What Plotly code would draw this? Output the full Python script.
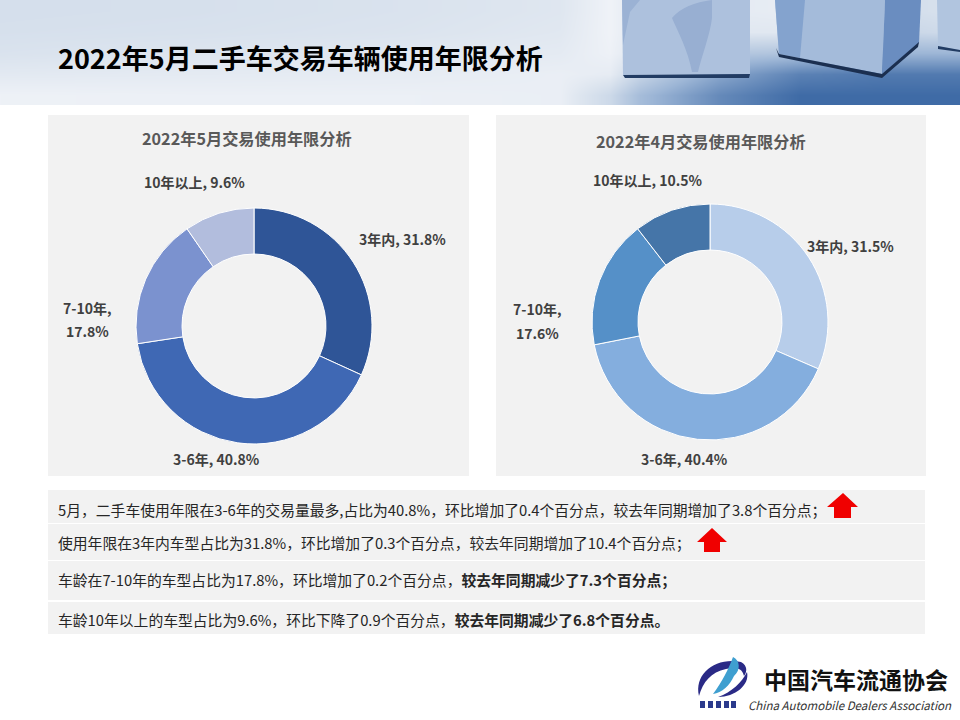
import plotly.graph_objects as go

# chart data
categories = ["3年内", "3-6年", "7-10年", "10年以上"]
may_values = [31.8, 40.8, 17.8, 9.6]
apr_values = [31.5, 40.4, 17.6, 10.5]
may_colors = ["#2f5597", "#3f68b4", "#7b92cf", "#b2bddd"]
apr_colors = ["#b7cdea", "#84aede", "#5590c8", "#4575a8"]
may_title = "2022年5月交易使用年限分析"
apr_title = "2022年4月交易使用年限分析"
page_title = "2022年5月二手车交易车辆使用年限分析"

notes = [
    "5月，二手车使用年限在3-6年的交易量最多,占比为40.8%，环比增加了0.4个百分点，较去年同期增加了3.8个百分点；",
    "使用年限在3年内车型占比为31.8%，环比增加了0.3个百分点，较去年同期增加了10.4个百分点；",
    "车龄在7-10年的车型占比为17.8%，环比增加了0.2个百分点，<b>较去年同期减少了7.3个百分点；</b>",
    "车龄10年以上的车型占比为9.6%，环比下降了0.9个百分点，<b>较去年同期减少了6.8个百分点。</b>",
]

FONT = "Noto Sans CJK SC"
TEXT = "#404040"

# header banner shading, 0 = pale, 1 = deep blue
banner_x = [0, 200, 400, 560, 610, 640, 720, 800, 880, 960]
banner_y = [10.5, 31.5, 52.5, 73.5, 94.5]
banner_z = [
    [0.17, 0.16, 0.14, 0.11, 0.02, 0.10, 0.08, 0.06, 0.20, 0.14],
    [0.16, 0.15, 0.13, 0.10, 0.02, 0.10, 0.10, 0.10, 0.25, 0.20],
    [0.14, 0.12, 0.10, 0.08, 0.03, 0.12, 0.35, 0.40, 0.50, 0.50],
    [0.09, 0.08, 0.07, 0.05, 0.07, 0.25, 0.60, 0.85, 0.90, 0.90],
    [0.03, 0.04, 0.04, 0.05, 0.22, 0.45, 0.80, 1.00, 1.00, 1.00],
]

fig = go.Figure()

fig.add_trace(go.Heatmap(
    x=banner_x, y=banner_y, z=banner_z, zsmooth="best", showscale=False, hoverinfo="skip",
    zmin=0, zmax=1, colorscale=[[0, "#f3f5f9"], [0.12, "#dde5ef"], [0.5, "#9db6d6"], [1, "#3f6ba6"]],
))


def add_donut(values, colors, left, top, size):
    # the library lays the ring out in its own domain, given in page fractions
    fig.add_trace(go.Pie(
        labels=categories, values=values, hole=0.61, sort=False, direction="clockwise",
        rotation=0, textinfo="none", showlegend=False,
        marker=dict(colors=colors, line=dict(color="#ffffff", width=1)),
        domain=dict(x=[left / 960, (left + size) / 960],
                    y=[1 - (top + size) / 720, 1 - top / 720]),
    ))


add_donut(may_values, may_colors, 136, 208, 236)
add_donut(apr_values, apr_colors, 592, 204, 236)


def rect(x0, y0, x1, y1, color, layer="below"):
    fig.add_shape(type="rect", x0=x0, y0=y0, x1=x1, y1=y1, fillcolor=color,
                  line_width=0, layer=layer)


def poly(path, color, layer="above"):
    fig.add_shape(type="path", path=path, fillcolor=color, line_width=0, layer=layer)


def text(x, y, s, size=14, color=TEXT, anchor="left", **kw):
    fig.add_annotation(x=x, y=y, text=s, showarrow=False, xanchor=anchor, yanchor="middle",
                       font=dict(family=FONT, size=size, color=color), **kw)


# panels
rect(48, 115, 469, 476, "#f2f2f2")
rect(496, 115, 926, 476, "#f2f2f2")
for y0, y1 in [(490, 523), (524, 560), (561, 600), (602, 634)]:
    rect(48, y0, 925, y1, "#f2f2f2")

# blocks in the banner
poly("M622,0 L750,0 L750,74 L623,75 Z", "#adc1dd")
poly("M672,18 C680,8 695,2 712,0 L712,18 C710,35 702,55 698,72 L692,72 C688,50 678,32 672,18 Z", "#98afd2")
poly("M622,0 L640,0 L630,12 L623,45 Z", "#9bb2d4")
poly("M623,75 L750,74 L749,78 L625,78 Z", "#223c63")
poly("M775,0 L885,0 L882,74 L779,54 Z", "#a4bbda")
poly("M775,0 L805,0 L800,58 L779,54 Z", "#84a3ce")
poly("M885,0 L921,0 L919,43 L882,74 Z", "#6a8dc0")
poly("M776,48 L779,54 L882,74 L919,42 L918,47 L882,78 L779,57 Z", "#1b2f50")
poly("M937,0 L960,0 L960,50 L938,46 Z", "#b1c5df")
poly("M938,46 L960,50 L960,52 L938,49 Z", "#223c63")

# titles
text(56, 57, "<b>%s</b>" % page_title, size=27, color="#000000")
text(247, 138, "<b>%s</b>" % may_title, size=16.2, color="#595959", anchor="center")
text(701, 141, "<b>%s</b>" % apr_title, size=16.2, color="#595959", anchor="center")


# ring labels, value text comes from the arrays
def lab(i, values):
    return "<b>%s, %.1f%%</b>" % (categories[i], values[i])


def lab_pair(x, y_top, y_bottom, i, values):
    text(x, y_top, "<b>%s,</b>" % categories[i], anchor="center")
    text(x, y_bottom, "<b>%.1f%%</b>" % values[i], anchor="center")


text(402, 239, lab(0, may_values), anchor="center")
text(216, 459, lab(1, may_values), anchor="center")
lab_pair(87, 308, 331, 2, may_values)
text(194, 182, lab(3, may_values), anchor="center")

text(850, 246, lab(0, apr_values), anchor="center")
text(684, 459, lab(1, apr_values), anchor="center")
lab_pair(537, 309, 333, 2, apr_values)
text(648, 180, lab(3, apr_values), anchor="center")

# notes and arrows
for s, y in zip(notes, [509, 542, 579, 619]):
    text(56, y, s, size=14.8, color="#262626")

poly("M827,507 L843,493 L858,507 L851,507 L851,518 L834,518 L834,507 Z", "#f00000")
poly("M697,542 L712,528 L727,542 L720,542 L720,552 L704,552 L704,542 Z", "#f00000")

# association logo
poly("M699,696 C694,674 715,657 741,662 C748,666 747,672 744,676 C742,668 736,667 726,669 "
     "C711,672 703,682 699,696 Z", "#2a2a86")
poly("M747,672 C750,685 735,697 718,697 C732,692 742,682 747,672 Z", "#2a2a86")
poly("M713,694 C722,682 729,668 733,657 C740,660 741,670 734,676 C730,685 722,693 713,694 Z", "#3f9fd0")
for bar_x in [700, 708, 716, 724, 731]:
    rect(bar_x, 701, bar_x + 5, 708, "#2b3a8c", layer="above")
text(856, 679, "<b>中国汽车流通协会</b>", size=23, color="#111111", anchor="center")
text(850, 705, "<i>China Automobile Dealers Association</i>", size=11.5, color="#333333", anchor="center")

fig.update_layout(
    width=960, height=720, autosize=False,
    margin=dict(l=0, r=0, t=0, b=0),
    paper_bgcolor="#ffffff", plot_bgcolor="#ffffff",
    xaxis=dict(range=[0, 960], visible=False, fixedrange=True),
    yaxis=dict(range=[720, 0], visible=False, fixedrange=True),
)

# page margin would push the figure 8px off the window
fig.write_html("out.html", config=dict(displayModeBar=False),
               post_script="document.body.style.margin='0';")
